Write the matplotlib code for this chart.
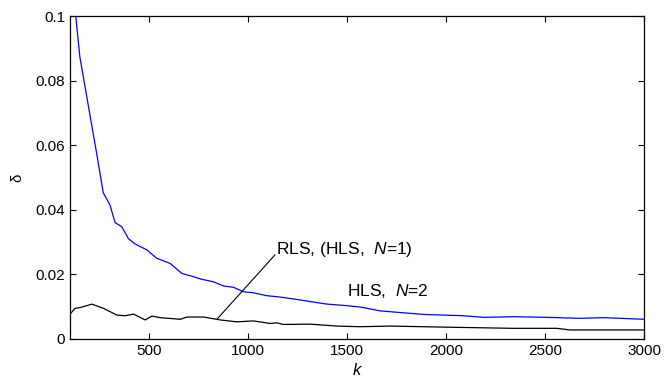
import matplotlib
matplotlib.use("Agg")
import matplotlib.pyplot as plt

plt.rcParams['font.family'] = ['Liberation Sans', 'DejaVu Sans']
plt.rcParams['mathtext.fontset'] = 'custom'
plt.rcParams['mathtext.rm'] = 'Liberation Sans'
plt.rcParams['mathtext.it'] = 'Liberation Sans:italic'

# HLS, N=2 (blue)
k_hls2 = [129, 150, 238, 268, 302, 328, 361, 395, 429, 488, 538, 606, 665, 724, 758,
          825, 876, 926, 977, 1027, 1094, 1145, 1229, 1313, 1398, 1482, 1566, 1667,
          1886, 2088, 2189, 2340, 2508, 2677, 2795, 3000]
d_hls2 = [0.1, 0.0873, 0.0563, 0.0453, 0.0415, 0.036, 0.0348, 0.0311, 0.0294, 0.0276,
          0.025, 0.0234, 0.0203, 0.0193, 0.0186, 0.0177, 0.0164, 0.016, 0.0146, 0.0143,
          0.0134, 0.0131, 0.0124, 0.0116, 0.0108, 0.0104, 0.0099, 0.0087, 0.0076,
          0.0072, 0.0067, 0.0069, 0.0067, 0.0064, 0.0066, 0.0061]

# RLS, (HLS, N=1) (black)
k_rls = [100, 126, 151, 210, 269, 337, 379, 421, 480, 514, 556, 657, 691, 775, 859,
         943, 1027, 1111, 1145, 1178, 1313, 1448, 1566, 1717, 2054, 2340, 2559, 2626, 3000]
d_rls = [0.0077, 0.0095, 0.0097, 0.0108, 0.0095, 0.0074, 0.0072, 0.0077, 0.0059, 0.0071,
         0.0066, 0.0061, 0.0068, 0.0068, 0.0059, 0.0053, 0.0056, 0.0048, 0.005, 0.0045,
         0.0046, 0.0040, 0.0038, 0.004, 0.0036, 0.0033, 0.0033, 0.0028, 0.0028]

xticks = [500, 1000, 1500, 2000, 2500, 3000]
yticks = [0, 0.02, 0.04, 0.06, 0.08, 0.1]
yticklabels = ['0', '0.02', '0.04', '0.06', '0.08', '0.1']

fig = plt.figure(figsize=(6.64, 3.82), dpi=100)
ax = fig.add_axes([0.1054, 0.1126, 0.8646, 0.8454])

ax.plot(k_hls2, d_hls2, color='#0000ff', lw=0.9)
ax.plot(k_rls, d_rls, color='black', lw=0.9)

ax.set_xlim(100, 3000)
ax.set_ylim(0, 0.1)
ax.set_xticks(xticks)
ax.set_yticks(yticks)
ax.set_yticklabels(yticklabels)
ax.tick_params(direction='in', top=True, right=True, labelsize=11, length=4, width=0.8)
for s in ax.spines.values():
    s.set_linewidth(0.9)

ax.set_xlabel('k', style='italic', fontsize=12, labelpad=4)
ax.set_ylabel('δ', fontsize=11, labelpad=8)

# label leader line
ax.plot([842, 1135], [0.0061, 0.0260], color='black', lw=0.8)
ax.text(1143, 0.0277, 'RLS, (HLS,  $\\it{N}$=1)', fontsize=12.5, va='center', ha='left')
ax.text(1497, 0.0150, 'HLS,  $\\it{N}$=2', fontsize=12.5, va='center', ha='left')

plt.savefig('out.png', dpi=100)
